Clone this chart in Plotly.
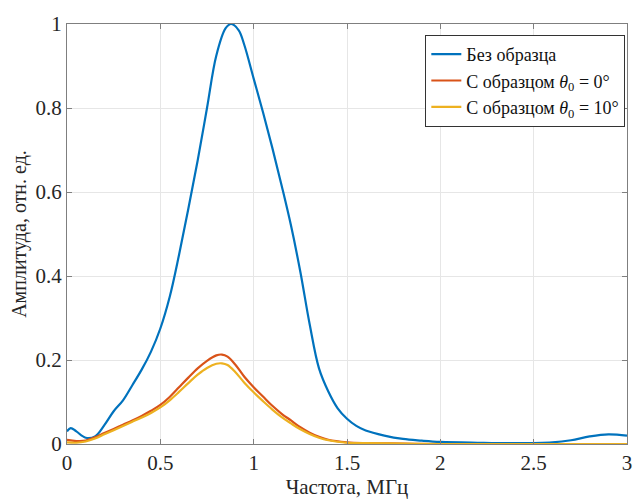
import plotly.graph_objects as go

# Frequency (MHz) and amplitude (rel. units)
x_blue = [0, 0.02, 0.05, 0.1, 0.15, 0.2, 0.25, 0.3, 0.35, 0.4, 0.45, 0.5, 0.55, 0.6, 0.65, 0.7,
          0.75, 0.8, 0.85, 0.88, 0.92, 0.95, 1.0, 1.05, 1.1, 1.15, 1.2, 1.25, 1.3, 1.35, 1.4,
          1.45, 1.5, 1.55, 1.6, 1.7, 1.8, 1.9, 2.0, 2.2, 2.4, 2.6, 2.7, 2.8, 2.9, 3.0]
y_blue = [0.03, 0.038, 0.03, 0.015, 0.018, 0.045, 0.078, 0.104, 0.14, 0.177, 0.22, 0.275, 0.35, 0.45,
          0.56, 0.675, 0.8, 0.925, 0.99, 1.0, 0.985, 0.95, 0.87, 0.79, 0.705, 0.615, 0.52, 0.41,
          0.285, 0.18, 0.125, 0.085, 0.06, 0.043, 0.032, 0.02, 0.012, 0.008, 0.005, 0.003, 0.002,
          0.004, 0.009, 0.018, 0.023, 0.02]

x_s = [0, 0.05, 0.1, 0.15, 0.2, 0.25, 0.3, 0.35, 0.4, 0.45, 0.5, 0.55, 0.6, 0.65, 0.7, 0.75, 0.8,
       0.83, 0.86, 0.9, 0.95, 1.0, 1.05, 1.1, 1.15, 1.2, 1.25, 1.3, 1.35, 1.4, 1.5, 1.6, 1.8,
       2.0, 2.5, 3.0]
y_0deg = [0.01, 0.007, 0.008, 0.016, 0.026, 0.036, 0.046, 0.056, 0.067, 0.079, 0.093, 0.112, 0.135,
          0.158, 0.18, 0.198, 0.211, 0.213, 0.208, 0.19, 0.16, 0.135, 0.113, 0.091, 0.072, 0.056,
          0.04, 0.027, 0.017, 0.01, 0.004, 0.002, 0.001, 0.0, 0.0, 0.0]
y_10deg = [0.004, 0.003, 0.006, 0.013, 0.023, 0.033, 0.043, 0.053, 0.063, 0.074, 0.087, 0.104, 0.124,
           0.145, 0.165, 0.181, 0.191, 0.192, 0.188, 0.172, 0.146, 0.123, 0.102, 0.082, 0.064, 0.049,
           0.035, 0.024, 0.015, 0.009, 0.003, 0.002, 0.001, 0.0, 0.0, 0.0]

x_ticks = [0, 0.5, 1, 1.5, 2, 2.5, 3]
y_ticks = [0, 0.2, 0.4, 0.6, 0.8, 1]

names = ["Без образца",
         "С образцом <i>θ</i><sub>0</sub> = 0°",
         "С образцом <i>θ</i><sub>0</sub> = 10°"]
colors = ["#0072BD", "#D95319", "#EDB120"]

fig = go.Figure()
for xs, ys, nm, c in [(x_blue, y_blue, names[0], colors[0]),
                      (x_s, y_0deg, names[1], colors[1]),
                      (x_s, y_10deg, names[2], colors[2])]:
    fig.add_trace(go.Scatter(x=xs, y=ys, mode="lines", name=nm,
                             line=dict(color=c, width=2.2, shape="spline", smoothing=1.0)))

font_family = "Liberation Serif, Times New Roman, serif"
axis_common = dict(showline=True, linecolor="#7f7f7f", linewidth=1, mirror="ticks",
                   ticks="inside", ticklen=5, tickcolor="#7f7f7f",
                   showgrid=True, gridcolor="#e6e6e6", gridwidth=1, zeroline=False,
                   tickfont=dict(family=font_family, size=21, color="#262626"))

fig.update_layout(
    width=639, height=500,
    margin=dict(l=67, r=7, t=24, b=56),
    paper_bgcolor="white", plot_bgcolor="white",
    font=dict(family=font_family, color="#262626"),
    xaxis=dict(range=[0, 3], tickvals=x_ticks, ticktext=[str(v) for v in x_ticks],
               title=dict(text="Частота, МГц", font=dict(family=font_family, size=21), standoff=2),
               **axis_common),
    yaxis=dict(range=[0, 1], tickvals=y_ticks, ticktext=[("%g" % v) for v in y_ticks],
               title=dict(text="Амплитуда, отн. ед.", font=dict(family=font_family, size=20), standoff=3),
               **axis_common),
    legend=dict(x=0.997, y=0.974, xanchor="right", yanchor="top",
                bgcolor="white", bordercolor="#333333", borderwidth=1,
                font=dict(family=font_family, size=18, color="#111111"),
                tracegroupgap=0),
    showlegend=True,
)

fig.write_html("out.html")
